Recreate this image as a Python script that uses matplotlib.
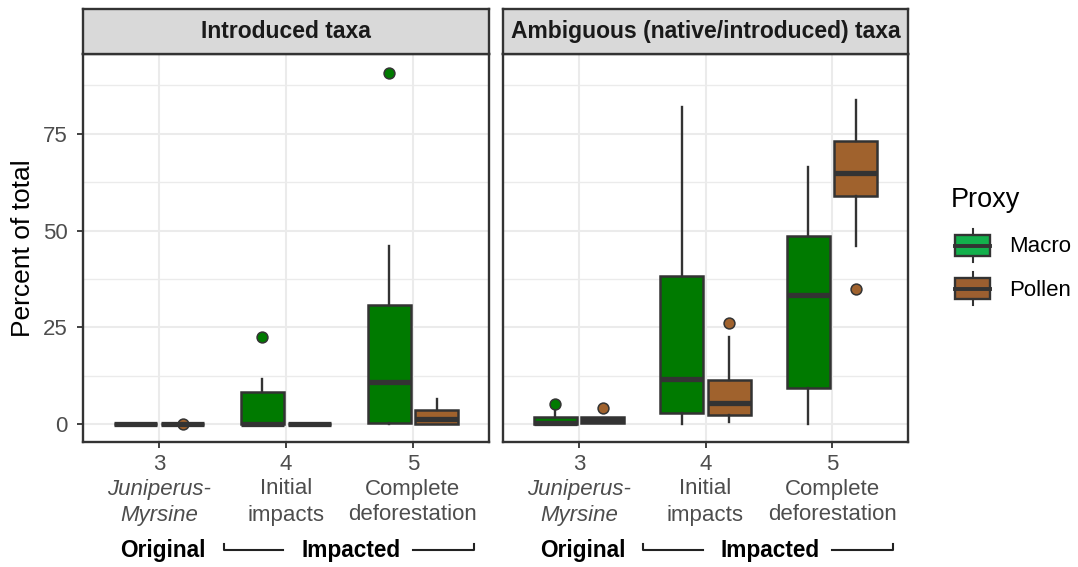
import matplotlib
matplotlib.use("Agg")
import matplotlib.pyplot as plt
from matplotlib.patches import Rectangle
from matplotlib.transforms import blended_transform_factory

plt.rcParams['font.family'] = ['Liberation Sans', 'DejaVu Sans']

# data
groups = [3, 4, 5]
group_line1 = ['Juniperus-', 'Initial', 'Complete']
group_line2 = ['Myrsine', 'impacts', 'deforestation']
panel_titles = ['Introduced taxa', 'Ambiguous (native/introduced) taxa']
proxies = ['Macro', 'Pollen']

# Introduced taxa
intro_macro_whislo = [0, 0, 0]
intro_macro_q1 = [0, 0, 0.3]
intro_macro_med = [0, 0, 10.9]
intro_macro_q3 = [0, 8.4, 30.8]
intro_macro_whishi = [0, 11.6, 45.9]
intro_macro_fliers = [[], [22.5], [90.7]]

intro_pollen_whislo = [0, 0, 0]
intro_pollen_q1 = [0, 0, 0.1]
intro_pollen_med = [0, 0, 1.3]
intro_pollen_q3 = [0, 0, 3.8]
intro_pollen_whishi = [0, 0, 6.6]
intro_pollen_fliers = [[0.1], [], []]

# Ambiguous taxa
amb_macro_whislo = [0, 0, 0]
amb_macro_q1 = [0, 3.0, 9.5]
amb_macro_med = [0.4, 11.8, 33.5]
amb_macro_q3 = [2.0, 38.2, 48.7]
amb_macro_whishi = [3.6, 82.0, 66.5]
amb_macro_fliers = [[5.3], [], []]

amb_pollen_whislo = [0.3, 0.6, 45.9]
amb_pollen_q1 = [0.3, 2.5, 58.8]
amb_pollen_med = [1.0, 5.6, 64.8]
amb_pollen_q3 = [1.8, 11.5, 73.0]
amb_pollen_whishi = [1.8, 22.5, 83.7]
amb_pollen_fliers = [[4.2], [26.2], [34.8]]

panel_data = [
    {'Macro': (intro_macro_whislo, intro_macro_q1, intro_macro_med, intro_macro_q3, intro_macro_whishi, intro_macro_fliers),
     'Pollen': (intro_pollen_whislo, intro_pollen_q1, intro_pollen_med, intro_pollen_q3, intro_pollen_whishi, intro_pollen_fliers)},
    {'Macro': (amb_macro_whislo, amb_macro_q1, amb_macro_med, amb_macro_q3, amb_macro_whishi, amb_macro_fliers),
     'Pollen': (amb_pollen_whislo, amb_pollen_q1, amb_pollen_med, amb_pollen_q3, amb_pollen_whishi, amb_pollen_fliers)},
]

fill_col = {'Macro': '#007A00', 'Pollen': '#A0622D'}
key_col = {'Macro': '#13B04C', 'Pollen': '#9C5F30'}
offset = {'Macro': -0.187, 'Pollen': 0.187}
EDGE = '#333333'
GRID = '#EBEBEB'
TXT = '#4D4D4D'

W, H = 1078, 567
fig = plt.figure(figsize=(W / 100, H / 100), dpi=100)


def px_axes(x0, y0, x1, y1):
    return fig.add_axes([x0 / W, 1 - y1 / H, (x1 - x0) / W, (y1 - y0) / H])


panel_px = [(83, 54, 489, 442), (503, 54, 908, 442)]

for i, (x0, y0, x1, y1) in enumerate(panel_px):
    ax = px_axes(x0, y0, x1, y1)
    ax.set_xlim(2.4, 5.6)
    ax.set_ylim(-4.55, 95.55)
    ax.set_axisbelow(True)

    for p in proxies:
        wl, q1, med, q3, wh, fl = panel_data[i][p]
        stats = [dict(whislo=wl[k], q1=q1[k], med=med[k], q3=q3[k], whishi=wh[k], fliers=fl[k])
                 for k in range(len(groups))]
        ax.bxp(stats, positions=[g + offset[p] for g in groups], widths=0.34,
               patch_artist=True, showcaps=False, manage_ticks=False,
               boxprops=dict(facecolor=fill_col[p], edgecolor=EDGE, linewidth=1.8),
               whiskerprops=dict(color=EDGE, linewidth=1.7),
               medianprops=dict(color=EDGE, linewidth=3.8, solid_capstyle='butt'),
               flierprops=dict(marker='o', markerfacecolor=fill_col[p], markeredgecolor=EDGE,
                               markersize=7.8, markeredgewidth=1.1))

    ax.set_xticks(groups)
    ax.set_xticklabels([str(g) for g in groups])
    ax.set_yticks([0, 25, 50, 75])
    ax.set_yticks([12.5, 37.5, 62.5, 87.5], minor=True)
    ax.grid(True, which='major', color=GRID, linewidth=1.5)
    ax.grid(True, which='minor', axis='y', color=GRID, linewidth=1.0)
    ax.tick_params(which='minor', length=0)
    ax.tick_params(which='major', direction='out', length=4, width=1.3, color=EDGE,
                   labelsize=16, labelcolor=TXT)
    ax.tick_params(axis='x', pad=5)
    ax.tick_params(axis='y', pad=7)
    if i == 1:
        ax.tick_params(axis='y', length=0, labelleft=False)
    for s in ax.spines.values():
        s.set_color(EDGE)
        s.set_linewidth(1.7)

    # second part of the x labels
    tr = blended_transform_factory(ax.transData, ax.transAxes)
    for g, l1, l2 in zip(groups, group_line1, group_line2):
        style = 'italic' if g == 3 else 'normal'
        ax.text(g, (y1 - 489) / (y1 - y0), l1, transform=tr, ha='center', va='center',
                fontsize=16, color=TXT, style=style)
        ax.text(g, (y1 - 515) / (y1 - y0), l2, transform=tr, ha='center', va='center',
                fontsize=16, color=TXT, style=style)

    # Original / Impacted brackets
    yb = (y1 - 550) / (y1 - y0)
    yt = (y1 - 544) / (y1 - y0)
    ax.text(3.03, yb, 'Original', transform=tr, ha='center', va='center',
            fontsize=16.3, fontweight='bold', color='black')
    ax.text(4.51, yb, 'Impacted', transform=tr, ha='center', va='center',
            fontsize=16.3, fontweight='bold', color='black')
    ax.plot([3.51, 3.51, 3.98], [yt, yb, yb], transform=tr, color='#222222', lw=1.5, clip_on=False)
    ax.plot([5.0, 5.48, 5.48], [yb, yb, yt], transform=tr, color='#222222', lw=1.5, clip_on=False)

    # facet strip
    sax = px_axes(x0, 9, x1, y0)
    sax.set_facecolor('#D9D9D9')
    sax.set_xticks([])
    sax.set_yticks([])
    for s in sax.spines.values():
        s.set_color(EDGE)
        s.set_linewidth(1.7)
    sax.text(0.5, 0.5, panel_titles[i], transform=sax.transAxes, ha='center', va='center',
             fontsize=16.5, fontweight='bold', color='#1A1A1A')

fig.text(23 / W, 1 - 248 / H, 'Percent of total', rotation=90, fontsize=19,
         ha='center', va='center', color='black')

# legend drawn by hand on an overlay in pixel units
lax = fig.add_axes([0, 0, 1, 1])
lax.set_xlim(0, W)
lax.set_ylim(H, 0)
lax.axis('off')
lax.text(951, 200, 'Proxy', fontsize=19.5, ha='left', va='center', color='black')
key_top = {'Macro': 235, 'Pollen': 278}
for p in proxies:
    t = key_top[p]
    lax.plot([972.5, 972.5], [t - 6, t + 27], color=EDGE, lw=1.5, zorder=1)
    lax.add_patch(Rectangle((955, t), 35, 21, facecolor=key_col[p], edgecolor=EDGE, lw=1.7, zorder=2))
    lax.plot([955, 990], [t + 10.5, t + 10.5], color=EDGE, lw=2.8, zorder=3)
    lax.text(1009, t + 12, p, fontsize=16, ha='left', va='center', color='black')

plt.savefig('out.png', dpi=100)
